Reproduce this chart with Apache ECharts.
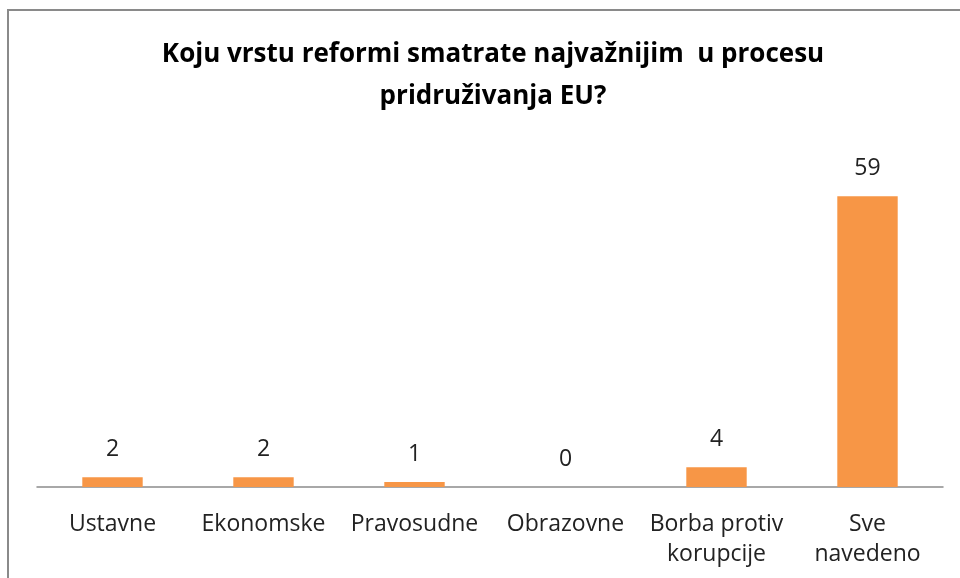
<!DOCTYPE html>
<html>
<head>
<meta charset="utf-8">
<script src="https://cdn.jsdelivr.net/npm/echarts@6/dist/echarts.min.js"></script>
<style>
    html, body { margin: 0; padding: 0; background: #fff; }
    #chart { width: 960px; height: 578px; }
</style>
</head>
<body>
<div id="chart"></div>
<script>
// 数据
const categories = ['Ustavne', 'Ekonomske', 'Pravosudne', 'Obrazovne', 'Borba protiv\nkorupcije', 'Sve\nnavedeno'];
const values = [2, 2, 1, 0, 4, 59];
const titleText = 'Koju vrstu reformi smatrate najvažnijim  u procesu\npridruživanja EU?';

const fontFamily = '"Open Sans", "Noto Sans", sans-serif';

const myChart = echarts.init(document.getElementById('chart'));
const option = {
    backgroundColor: '#ffffff',
    animation: false,
    title: {
        text: titleText,
        left: 488,
        textAlign: 'center',
        top: 29,
        textStyle: {
            fontFamily: fontFamily,
            fontWeight: 'bold',
            fontSize: 26,
            lineHeight: 42,
            color: '#000000'
        }
    },
    // 外框
    graphic: [{
        type: 'rect',
        shape: { x: 8, y: 10, width: 1000, height: 700 },
        style: { fill: 'none', stroke: '#8a8a8a', lineWidth: 2 },
        silent: true
    }],
    grid: {
        left: 37,
        right: 17,
        top: 142,
        bottom: 91
    },
    xAxis: {
        type: 'category',
        data: categories,
        axisLine: { lineStyle: { color: '#8c8c8c', width: 1.5 } },
        axisTick: { show: false },
        axisLabel: {
            interval: 0,
            margin: 22,
            fontFamily: fontFamily,
            fontSize: 23,
            lineHeight: 30,
            color: '#222222'
        }
    },
    yAxis: {
        type: 'value',
        min: 0,
        max: 70,
        show: false,
        splitLine: { show: false }
    },
    series: [{
        type: 'bar',
        data: values,
        barWidth: '40%',
        itemStyle: { color: '#F79646' },
        label: {
            show: true,
            position: 'top',
            distance: 16,
            fontFamily: fontFamily,
            fontSize: 23,
            color: '#222222'
        }
    }]
};
myChart.setOption(option);
</script>
</body>
</html>
